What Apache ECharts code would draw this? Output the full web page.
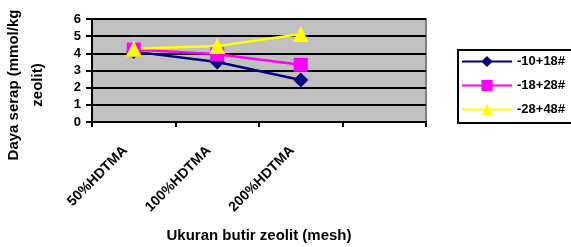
<!DOCTYPE html>
<html>
<head>
<meta charset="utf-8">
<script src="https://cdn.jsdelivr.net/npm/echarts@6/dist/echarts.min.js"></script>
<style>
  html, body { margin: 0; padding: 0; background: #fff; }
  #main { width: 571px; height: 247px; }
</style>
</head>
<body>
<div id="main"></div>
<script>
// data
var categories = ['50%HDTMA', '100%HDTMA', '200%HDTMA', ''];
var seriesNames = ['-10+18#', '-18+28#', '-28+48#'];
var mesh1018 = [4.1, 3.5, 2.45, null];
var mesh1828 = [4.22, 3.95, 3.33, null];
var mesh2848 = [4.27, 4.42, 5.12, null];
var yTicks = { min: 0, max: 6, interval: 1 };

var font = 'Liberation Sans, Arial, sans-serif';

var chart = echarts.init(document.getElementById('main'), null, { renderer: 'canvas' });

function lineSeries(name, data, color, symbol, size) {
  return {
    name: name,
    type: 'line',
    data: data,
    symbol: symbol,
    symbolSize: size,
    lineStyle: { color: color, width: 2.5 },
    itemStyle: { color: color },
    animation: false
  };
}

chart.setOption({
  backgroundColor: '#ffffff',
  grid: {
    left: 92,
    right: 145,
    top: 19,
    bottom: 125,
    show: true,
    backgroundColor: '#c0c0c0',
    borderColor: '#808080',
    borderWidth: 2
  },
  legend: {
    left: 458,
    top: 50,
    orient: 'vertical',
    itemWidth: 50,
    itemHeight: 14,
    itemGap: 11,
    padding: [5, 30, 7, 3],
    borderColor: '#000',
    borderWidth: 2,
    textStyle: { fontFamily: font, fontWeight: 'bold', fontSize: 13, color: '#000' },
    data: seriesNames
  },
  xAxis: {
    type: 'category',
    data: categories,
    boundaryGap: true,
    name: 'Ukuran butir zeolit (mesh)',
    nameLocation: 'middle',
    nameGap: 106,
    nameTextStyle: { fontFamily: font, fontWeight: 'bold', fontSize: 15, color: '#000' },
    axisLine: { lineStyle: { color: '#000', width: 2 } },
    axisTick: { show: true, length: 5, lineStyle: { color: '#000', width: 2 } },
    axisLabel: {
      rotate: 45,
      margin: 18,
      interval: 0,
      padding: [0, 12, 0, 0],
      fontFamily: font, fontWeight: 'bold', fontSize: 14, color: '#000'
    },
    splitLine: { show: false }
  },
  yAxis: {
    type: 'value',
    min: yTicks.min,
    max: yTicks.max,
    interval: yTicks.interval,
    axisLine: { show: true, lineStyle: { color: '#000', width: 2 } },
    axisTick: { show: true, length: 6, lineStyle: { color: '#000', width: 2 } },
    axisLabel: { margin: 11, fontFamily: font, fontWeight: 'bold', fontSize: 13, color: '#000' },
    splitLine: { show: true, lineStyle: { color: '#000', width: 2 } }
  },
  graphic: [{
    type: 'text',
    x: 26,
    y: 85,
    rotation: Math.PI / 2,
    style: {
      text: 'Daya serap (mmol/kg\nzeolit)',
      align: 'center',
      verticalAlign: 'middle',
      fontFamily: font,
      fontWeight: 'bold',
      fontSize: 15,
      lineHeight: 24,
      fill: '#000'
    }
  }],
  series: [
    lineSeries(seriesNames[0], mesh1018, '#000080', 'diamond', 15),
    lineSeries(seriesNames[1], mesh1828, '#ff00ff', 'rect', 14),
    lineSeries(seriesNames[2], mesh2848, '#ffff00', 'triangle', 16)
  ]
});
</script>
</body>
</html>
